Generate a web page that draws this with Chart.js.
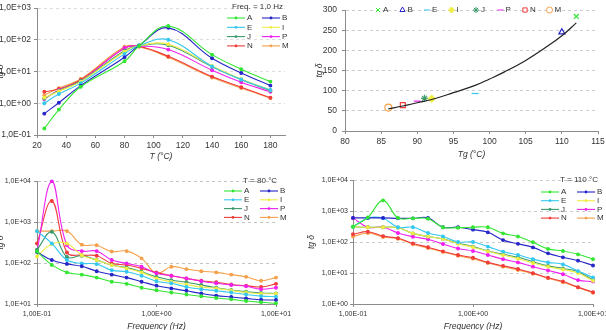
<!DOCTYPE html>
<html>
<head>
<meta charset="utf-8">
<script src="https://cdn.jsdelivr.net/npm/chart.js@4.4.1/dist/chart.umd.min.js"></script>
<style>
  html, body { margin: 0; padding: 0; background: #fff; }
  #wrap { position: relative; width: 606px; height: 330px; overflow: hidden; }
  canvas { position: absolute; }
</style>
</head>
<body>
<div id="wrap">
  <canvas id="c1" width="300" height="165" style="left:0;top:0"></canvas>
  <canvas id="c2" width="306" height="165" style="left:300px;top:0"></canvas>
  <canvas id="c3" width="300" height="165" style="left:0;top:165px"></canvas>
  <canvas id="c4" width="306" height="165" style="left:300px;top:165px"></canvas>
</div>
<script>
// samples, same order everywhere
const samples = ["A", "B", "E", "I", "J", "P", "N", "M"];

// top left: tg delta vs temperature, 1 Hz
const tempC = [25, 35, 50, 80, 90, 110, 140, 160, 180];
const tanT_A = [0.16, 0.63, 3.3, 21, 64, 270, 34, 11.8, 4.8];
const tanT_B = [0.47, 1.04, 3.6, 28, 66, 237, 26, 9, 3.6];
const tanT_E = [1.0, 1.95, 4.3, 36, 66, 100, 14.5, 5.6, 2.6];
const tanT_I = [1.5, 2.4, 4.8, 42, 65, 72, 15, 5.8, 2.6];
const tanT_J = [1.4, 2.5, 5.0, 45, 64, 67, 14, 5.5, 2.5];
const tanT_P = [1.35, 2.6, 5.0, 55, 63, 49, 11, 4.6, 2.3];
const tanT_N = [2.3, 2.8, 5.5, 54, 62, 30, 6.9, 3.2, 1.5];
const tanT_M = [1.8, 3.0, 5.8, 60, 60, 28, 6.5, 3.0, 1.45];
const p1XTicks = [20, 40, 60, 80, 100, 120, 140, 160, 180];
const p1YTicks = [0.1, 1, 10, 100, 1000];
const p1YLabels = ["1,0E-01", "1,0E+00", "1,0E+01", "1,0E+02", "1,0E+03"];

// top right: peak tg delta vs Tg
const tgTemp = [112, 110, 98, 92, 91, 90, 88, 86];
const tgPeak = [284, 245, 93, 80, 81, 74, 64, 58];
const fitTemp = [86, 88, 90, 92, 95, 98, 100, 102, 105, 108, 110, 112];
const fitPeak = [55, 62, 70, 78, 95, 113, 129, 146, 175, 210, 236, 268];
const p2XTicks = [80, 85, 90, 95, 100, 105, 110, 115];
const p2YTicks = [0, 50, 100, 150, 200, 250, 300];

// bottom: tg delta vs frequency
const freqHz = [0.1, 0.133, 0.178, 0.237, 0.316, 0.422, 0.562, 0.75, 1, 1.33, 1.78, 2.37, 3.16, 4.22, 5.62, 7.5, 10];
const freqTicks = [0.1, 1, 10];
const freqLabels = ["1,00E-01", "1,00E+00", "1,00E+01"];

// T = 80 °C
const f80_A = [190, 90, 59, 52, 44, 35, 31, 25, 21.6, 19, 17, 15.5, 14, 13, 11.8, 11, 10.4];
const f80_B = [185, 118, 95, 83, 63, 52, 44, 35, 28, 24, 21, 18, 16, 14.8, 13.7, 12.7, 12.5];
const f80_E = [600, 300, 118, 98, 94, 67, 61, 49, 36, 32, 26, 23, 21, 19, 17, 15.6, 15];
const f80_I = [145, 290, 300, 155, 118, 89, 74, 59, 42, 35, 30, 26, 24, 21.5, 19, 17.8, 17.8];
const f80_J = [210, 575, 140, 150, 118, 89, 77, 61, 46, 38, 34, 29, 25, 22, 20, 18.5, 18];
const f80_P = [195, 9800, 270, 195, 195, 118, 98, 81, 56, 49, 42, 36, 32, 29, 27, 23, 25];
const f80_N = [300, 3250, 180, 155, 150, 98, 89, 74, 59, 49, 42, 37, 34, 30, 28, 26, 31];
const f80_M = [600, 600, 600, 280, 270, 190, 195, 130, 56, 81, 71, 63, 59, 52, 46, 37, 44];
const p3YTicks = [10, 100, 1000, 10000];
const p3YLabels = ["1,0E+01", "1,0E+02", "1,0E+03", "1,0E+04"];

// T = 110 °C
const f110_A = [310, 620, 2200, 600, 580, 560, 300, 290, 300, 300, 190, 150, 98, 60, 51, 40, 28];
const f110_B = [600, 600, 600, 580, 580, 600, 300, 300, 250, 205, 115, 87, 67, 43, 32, 25, 17.5];
const f110_E = [310, 590, 580, 300, 300, 195, 150, 100, 100, 71, 49, 38, 28, 22, 19, 11.5, 7.2];
const f110_I = [310, 300, 300, 290, 190, 150, 125, 88, 68, 50, 38, 29, 21, 16, 13, 10, 5.6];
const f110_J = [310, 300, 300, 290, 190, 150, 126, 91, 71, 51, 40, 32, 23, 17, 14, 11, 5.9];
const f110_P = [600, 300, 300, 195, 148, 122, 86, 62, 51, 38, 28, 22, 16, 12, 9.1, 5.9, 5.3];
const f110_N = [177, 215, 155, 132, 90, 68, 50, 38, 31, 22, 17, 13.5, 9.9, 7, 5.3, 3.5, 2.4];
const f110_M = [150, 195, 145, 128, 85, 64, 48, 36, 29, 21, 16, 12.5, 9.5, 6.8, 5, 3.4, 2.3];
const p4YTicks = [1, 10, 100, 1000, 10000];
const p4YLabels = ["1,0E+00", "1,0E+01", "1,0E+02", "1,0E+03", "1,0E+04"];

// ---- styling ----
const FAMILY = '"Liberation Sans Narrow", "Liberation Sans", Arial, sans-serif';
const COLORS = ["#33e633", "#2626c8", "#33c8f0", "#eeee44", "#3c9a6c", "#f020f0", "#f03c3c", "#f5a04a"];
const MARKERS = ["crossRot", "triangle", "line", "rectRot", "star", "line", "rect", "circle"];
const MARKER_FILL = ["#33e633", "#fff", "#33c8f0", "#eeee44", "#3c9a6c", "#f020f0", "#fff", "#fff"];

Chart.defaults.font.family = FAMILY;
Chart.defaults.color = "#333";
Chart.defaults.animation = false;
Chart.defaults.responsive = false;
Chart.defaults.devicePixelRatio = 1;
Chart.defaults.plugins.legend.display = false;
Chart.defaults.plugins.tooltip.enabled = false;

// legend drawn inside the plot, Excel style
const insetLegend = {
  id: "insetLegend",
  afterDraw(chart, args, o) {
    if (!o || o.x == null) return;
    const ctx = chart.ctx;
    ctx.save();
    ctx.font = o.size + "px " + FAMILY;
    ctx.textBaseline = "middle";
    ctx.textAlign = "left";
    ctx.fillStyle = "#333";
    if (o.title) ctx.fillText(o.title, o.titleX, o.titleY);
    const sets = chart.data.datasets.filter((d) => !d.noLegend);
    sets.forEach((d, i) => {
      const x = o.x + (i % o.cols) * o.colW;
      const y = o.y + Math.floor(i / o.cols) * o.rowH;
      const c = d.borderColor;
      if (o.lineLen) {
        ctx.strokeStyle = c;
        ctx.lineWidth = 1.1;
        ctx.beginPath();
        ctx.moveTo(x, y);
        ctx.lineTo(x + o.lineLen, y);
        ctx.stroke();
        ctx.fillStyle = c;
        ctx.beginPath();
        ctx.arc(x + o.lineLen / 2, y, 1.4, 0, Math.PI * 2);
        ctx.fill();
        ctx.fillStyle = "#333";
        ctx.fillText(d.label, x + o.lineLen + 2, y);
      } else {
        ctx.strokeStyle = c;
        ctx.fillStyle = d.backgroundColor;
        ctx.lineWidth = 1;
        if (Chart.helpers && Chart.helpers.drawPoint) {
          Chart.helpers.drawPoint(ctx, { pointStyle: d.pointStyle, radius: 3, borderWidth: 1, rotation: 0 }, x, y);
        } else {
          ctx.beginPath();
          ctx.arc(x, y, 3, 0, Math.PI * 2);
          ctx.fill();
          ctx.stroke();
        }
        ctx.fillStyle = "#333";
        ctx.fillText(d.label, x + 5, y);
      }
    });
    ctx.restore();
  },
};
Chart.register(insetLegend);

// axis with fixed ticks and fixed box size, so the plot area lands where it should
function axis(o) {
  return {
    type: o.type,
    min: o.min,
    max: o.max,
    afterBuildTicks: (s) => {
      s.ticks = o.ticks.map((v) => ({ value: v }));
    },
    afterFit: (s) => {
      if (o.w != null) s.width = o.w;
      if (o.h != null) s.height = o.h;
      s.paddingLeft = s.paddingRight = s.paddingTop = s.paddingBottom = 0;
    },
    ticks: {
      autoSkip: false,
      maxRotation: 0,
      minRotation: 0,
      padding: o.tickPad != null ? o.tickPad : 3,
      font: { size: o.size },
      color: "#333",
      callback: (v, i) => (o.labels ? o.labels[i] : String(o.ticks[i])),
    },
    grid: { drawOnChartArea: !!o.grid, color: o.gridColor || "#cccccc", tickColor: "#8c8c8c", tickLength: 3 },
    border: { color: "#8c8c8c", dash: [3, 3] },
    title: {
      display: !!o.title,
      text: o.title,
      font: { size: o.titleSize || 8.5, style: "italic" },
      color: "#333",
      padding: o.titlePad || 0,
    },
  };
}

function lineSets(xs, series) {
  return series.map((ys, i) => ({
    label: samples[i],
    data: xs.map((x, j) => ({ x: x, y: ys[j] })),
    borderColor: COLORS[i],
    backgroundColor: COLORS[i],
    borderWidth: 1.1,
    pointRadius: 1.4,
    pointHoverRadius: 0,
    tension: 0.4,
    clip: 6,
  }));
}

// 1) tg delta vs T
new Chart(document.getElementById("c1"), {
  type: "line",
  data: { datasets: lineSets(tempC, [tanT_A, tanT_B, tanT_E, tanT_I, tanT_J, tanT_P, tanT_N, tanT_M]) },
  options: {
    layout: { padding: { left: 0, right: 15, top: 8, bottom: 0 } },
    scales: {
      x: axis({ type: "linear", min: 20, max: 190, ticks: p1XTicks, h: 30, size: 8.5, title: "T (°C)", titlePad: { top: 0, bottom: 3 } }),
      y: axis({ type: "logarithmic", min: 0.1, max: 1000, ticks: p1YTicks, labels: p1YLabels, w: 37, size: 8.5, grid: true, gridColor: "#dddddd", title: "tg δ", titlePad: { top: -4, bottom: 0 } }),
    },
    plugins: {
      insetLegend: { size: 8, title: "Freq. = 1,0 Hz", titleX: 232, titleY: 7, x: 227, y: 18, cols: 2, colW: 35, rowH: 9.3, lineLen: 18 },
    },
  },
});

// 2) peak tg delta vs Tg
const p2Sets = samples.map((s, i) => ({
  type: "scatter",
  label: s,
  data: [{ x: tgTemp[i], y: tgPeak[i] }],
  borderColor: COLORS[i],
  backgroundColor: MARKER_FILL[i],
  pointStyle: MARKERS[i],
  pointRadius: 3.5,
  pointBorderWidth: 1.2,
  pointHoverRadius: 0,
  clip: 6,
}));
p2Sets.unshift({
  type: "line",
  label: "fit",
  noLegend: true,
  data: fitTemp.map((t, j) => ({ x: t, y: fitPeak[j] })),
  borderColor: "#222",
  borderWidth: 1.2,
  pointRadius: 0,
  tension: 0.4,
});
new Chart(document.getElementById("c2"), {
  type: "scatter",
  data: { datasets: p2Sets },
  options: {
    layout: { padding: { left: 0, right: 8, top: 10, bottom: 0 } },
    scales: {
      x: axis({ type: "linear", min: 80, max: 115, ticks: p2XTicks, h: 34, size: 8.5, title: "Tg (°C)", titlePad: { top: 0, bottom: 5 } }),
      y: axis({ type: "linear", min: 0, max: 300, ticks: p2YTicks, w: 45, size: 8.5, tickPad: 5, grid: true, title: "tg δ", titlePad: { top: 15, bottom: 0 } }),
    },
    plugins: {
      insetLegend: { size: 8, x: 78, y: 10, cols: 8, colW: 24.5, rowH: 0 },
    },
  },
});

// 3) tg delta vs frequency at 80 °C
new Chart(document.getElementById("c3"), {
  type: "line",
  data: { datasets: lineSets(freqHz, [f80_A, f80_B, f80_E, f80_I, f80_J, f80_P, f80_N, f80_M]) },
  options: {
    layout: { padding: { left: 0, right: 24, top: 16, bottom: 0 } },
    scales: {
      x: axis({ type: "logarithmic", min: 0.1, max: 10, ticks: freqTicks, labels: freqLabels, h: 26, size: 7, title: "Frequency (Hz)", titlePad: { top: 0, bottom: -2 } }),
      y: axis({ type: "logarithmic", min: 10, max: 10000, ticks: p3YTicks, labels: p3YLabels, w: 37, size: 7, grid: true, gridColor: "#c4c4c4", title: "tg δ", titlePad: { top: -4, bottom: 0 } }),
    },
    plugins: {
      insetLegend: { size: 8, title: "T = 80 °C", titleX: 243, titleY: 16, x: 224, y: 26, cols: 2, colW: 36, rowH: 8.8, lineLen: 18 },
    },
  },
});

// 4) tg delta vs frequency at 110 °C
new Chart(document.getElementById("c4"), {
  type: "line",
  data: { datasets: lineSets(freqHz, [f110_A, f110_B, f110_E, f110_I, f110_J, f110_P, f110_N, f110_M]) },
  options: {
    layout: { padding: { left: 0, right: 13, top: 15, bottom: 0 } },
    scales: {
      x: axis({ type: "logarithmic", min: 0.1, max: 10, ticks: freqTicks, labels: freqLabels, h: 26, size: 7, title: "Frequency (Hz)", titlePad: { top: 0, bottom: -2 } }),
      y: axis({ type: "logarithmic", min: 1, max: 10000, ticks: p4YTicks, labels: p4YLabels, w: 53, size: 7, tickPad: 2, grid: true, title: "tg δ", titlePad: { top: 7, bottom: 0 } }),
    },
    plugins: {
      insetLegend: { size: 8, title: "T = 110 °C", titleX: 260, titleY: 15, x: 241, y: 27, cols: 2, colW: 36, rowH: 8.7, lineLen: 18 },
    },
  },
});
</script>
</body>
</html>
